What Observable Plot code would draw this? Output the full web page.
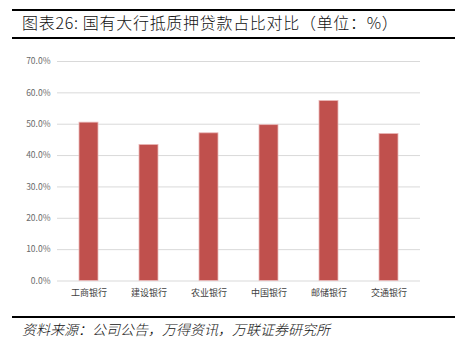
<!DOCTYPE html>
<html><head><meta charset="utf-8">
<script src="https://cdn.jsdelivr.net/npm/d3@7"></script>
<script src="https://cdn.jsdelivr.net/npm/@observablehq/plot@0.6"></script>
<style>
body{margin:0;background:#fff;width:455px;height:353px;position:relative;overflow:hidden;font-family:"Noto Sans CJK SC",sans-serif;}
.rule{position:absolute;left:12px;right:0;background:#000;}
#title{position:absolute;left:22px;top:12px;font-size:16px;line-height:20px;color:#111;letter-spacing:0.7px;white-space:nowrap;font-weight:300;}
#cap{position:absolute;left:22px;top:320px;font-size:14px;line-height:18px;color:#111;font-style:italic;white-space:nowrap;font-weight:300;}
#chart{position:absolute;left:0;top:40px;}
</style></head>
<body>
<div class="rule" style="top:9px;height:2px"></div>
<div id="title">图表26: 国有大行抵质押贷款占比对比（单位：%）</div>
<div class="rule" style="top:37px;height:2px"></div>
<div id="chart"></div>
<div class="rule" style="top:316px;height:2px"></div>
<div id="cap">资料来源：公司公告，万得资讯，万联证券研究所</div>
<script>
const banks = ["工商银行","建设银行","农业银行","中国银行","邮储银行","交通银行"];
const shares = [50.5, 43.4, 47.1, 49.7, 57.4, 46.9];
const yTicks = [0,10,20,30,40,50,60,70];
const data = banks.map((b,i)=>({bank:b, value:shares[i]}));
const plot = Plot.plot({
  width:455, height:270,
  marginLeft:57, marginRight:35, marginTop:21, marginBottom:29.5,
  style:{fontFamily:"'Noto Sans CJK SC', sans-serif", background:"transparent"},
  x:{domain:banks, paddingInner:0.69, paddingOuter:0.345, label:null},
  y:{domain:[0,70], label:null},
  marks:[
    Plot.gridY(yTicks,{stroke:"#d9d9d9", strokeOpacity:1, strokeWidth:1}),
    Plot.barY(data,{x:"bank", y:"value", fill:"#c0504d", stroke:"#eab8b8", strokeWidth:0.8}),
    Plot.axisY({ticks:yTicks, tickSize:0, tickPadding:7, tickFormat:d=>d.toFixed(1)+"%", fontSize:8.5, fill:"#6a6a6a", label:null}),
    Plot.axisX({tickSize:0, tickPadding:9, fontSize:9, fill:"#404040", label:null})
  ]
});
document.getElementById("chart").appendChild(plot);
</script>
</body></html>
